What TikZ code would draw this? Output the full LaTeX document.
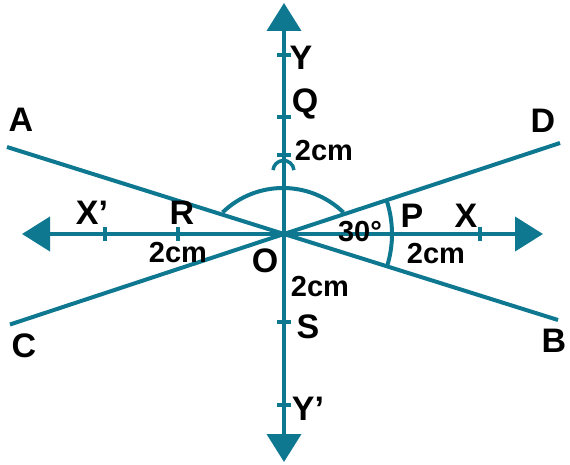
\documentclass[tikz,border=0pt]{standalone}
\usepackage{fontspec}
\setmainfont{Liberation Sans}
\usetikzlibrary{arrows.meta}
\definecolor{teal}{RGB}{14,120,145}
\tikzset{
  ln/.style={draw=teal,line width=4pt},
  axis/.style={ln,{Triangle[length=28pt,width=34pt]}-{Triangle[length=28pt,width=34pt]}},
  tk/.style={draw=teal,line width=3.5pt},
  lab/.style={inner sep=0pt,font=\fontsize{34}{36}\selectfont\bfseries},
  dim/.style={inner sep=0pt,font=\fontsize{29}{31}\selectfont\bfseries}
}
\begin{document}
\begin{tikzpicture}[x=1pt,y=-1pt]
\useasboundingbox (0,0) rectangle (570,465);
\coordinate (O) at (284,234);
\coordinate (XL) at (22,234);
\coordinate (XR) at (543,234);
\coordinate (YT) at (284,3);
\coordinate (YB) at (284,462);
\coordinate (Ae) at (7,147);
\coordinate (Be) at (558,320);
\coordinate (Ce) at (10,324.5);
\coordinate (De) at (560,143);
% lines
\draw[ln] (Ae) -- (O) -- (Be);
\draw[ln] (Ce) -- (O) -- (De);
\draw[axis] (XL) -- (XR);
\draw[axis] (YB) -- (YT);
% ticks horizontal axis
\foreach \x/\n in {105/tX1,178/tR,480/tX2}{
  \coordinate (\n a) at (\x,227); \coordinate (\n b) at (\x,241);
  \draw[tk] (\n a) -- (\n b);
}
% ticks vertical axis
\foreach \y/\n in {55/tY1,117/tQ,155/tM,322/tS,405/tY2}{
  \coordinate (\n a) at (277,\y); \coordinate (\n b) at (291,\y);
  \draw[tk] (\n a) -- (\n b);
}
% arcs
\draw[ln] (O) ++(-18.3:108) arc[start angle=-18.3,end angle=17.4,radius=108];
\coordinate (bc) at (283,275);
\draw[ln] (bc) ++(-46:87) arc[start angle=-46,end angle=-134,radius=87];
\coordinate (sc) at (283.5,171);
\draw[tk] (sc) ++(-5:10.5) arc[start angle=-5,end angle=-175,radius=10.5];
% labels
\node[lab] (A) at (21,120) {A};
\node[lab] (D) at (543,121) {D};
\node[lab] (C) at (24,346) {C};
\node[lab] (B) at (554,341) {B};
\node[lab] (Y) at (301,58) {Y};
\node[lab] (Q) at (305,104) {Q};
\node[lab] (S) at (308,327) {S};
\node[lab] (Yp) at (308,409) {Y’};
\node[lab] (Xp) at (92,213) {X’};
\node[lab] (R) at (182,213) {R};
\node[lab] (P) at (412,216) {P};
\node[lab] (X) at (466,216) {X};
\node[lab] (Ol) at (265,261) {O};
\node[dim] (d1) at (324,151) {2cm};
\node[dim] (d2) at (178,253) {2cm};
\node[dim] (d3) at (436,254) {2cm};
\node[dim] (d4) at (320,287) {2cm};
\node[dim] (ang) at (360,232) {30°};
\end{tikzpicture}
\end{document}
